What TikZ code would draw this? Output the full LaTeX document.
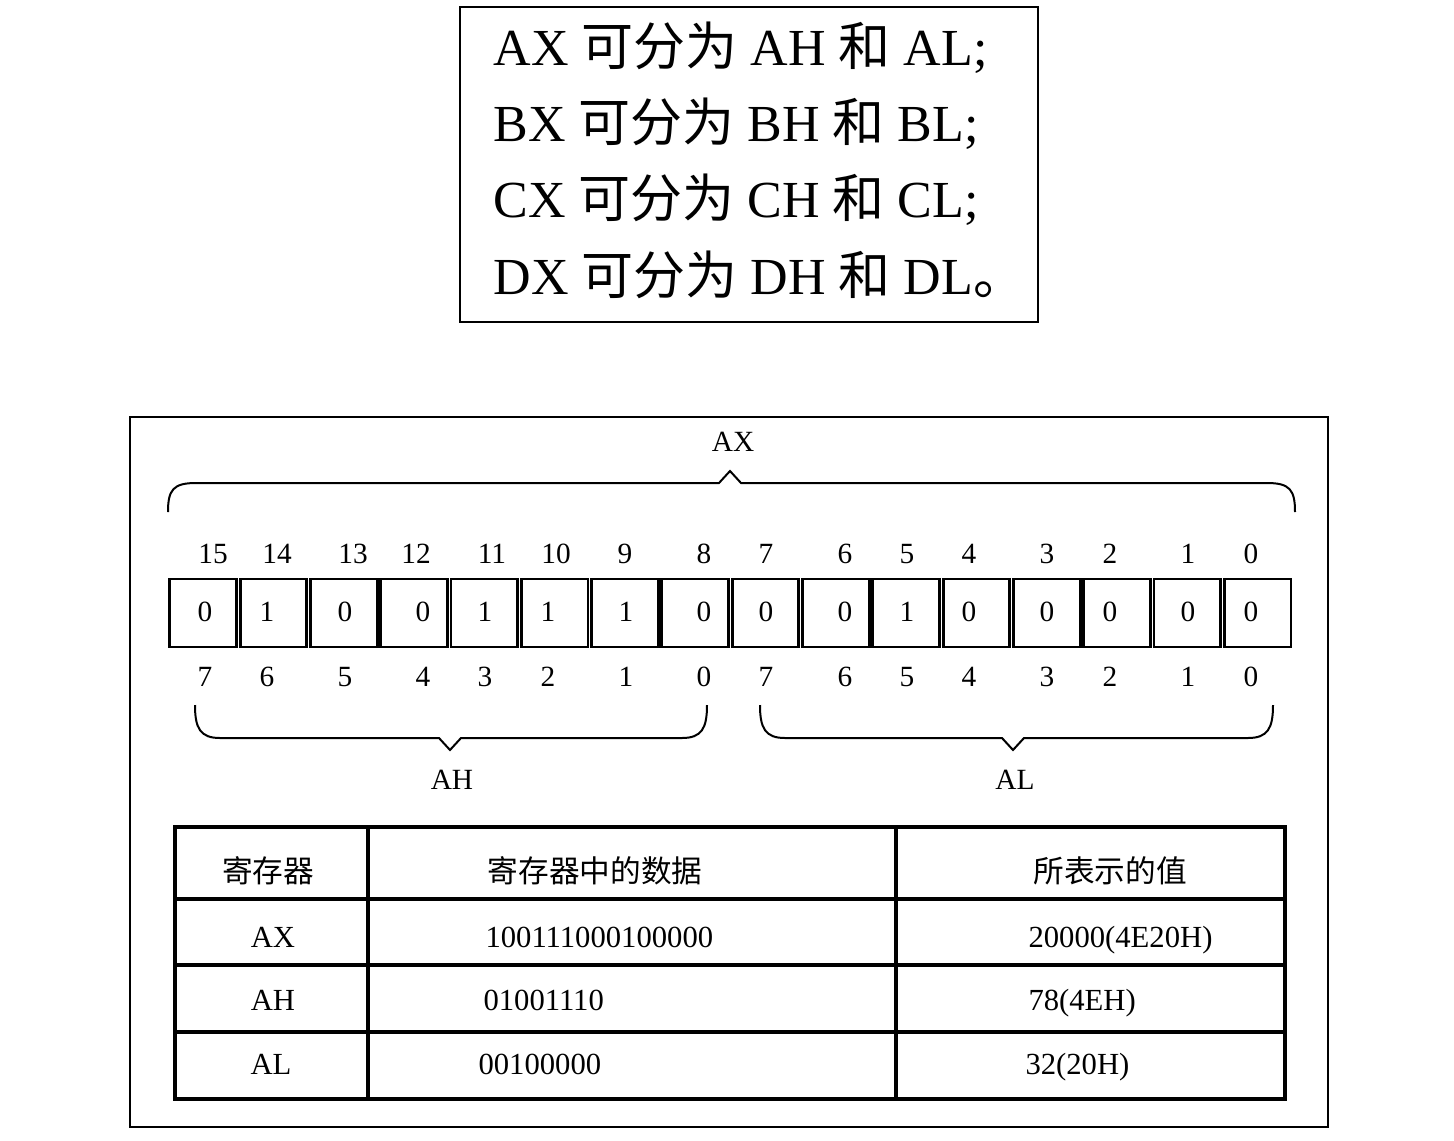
\documentclass[tikz,border=0pt]{standalone}
\usepackage{fontspec}
\setmainfont{Liberation Serif}
\newfontfamily\cjk{Noto Sans CJK SC}
\usetikzlibrary{positioning}

\tikzset{every picture/.style={line width=0.75pt}}
\tikzset{
  frame/.style={draw, line width=2.2pt},
  cellbox/.style={draw, line width=2.2pt, minimum width=50pt, minimum height=51pt, inner sep=0pt},
  bittxt/.style={inner sep=0.75pt, text height=15pt, text depth=0pt, font=\fontsize{22}{26}\selectfont},
  bigtxt/.style={anchor=west, inner sep=0pt, font=\fontsize{39}{46}\selectfont},
  tbltxt/.style={inner sep=0.75pt, text height=15pt, text depth=0pt, font=\fontsize{23}{27}\selectfont},
  bracestyle/.style={line width=1.5pt},
  tblline/.style={line width=2.6pt}
}

\begin{document}
\begin{tikzpicture}[x=0.75pt,y=0.75pt,yscale=-1,xscale=1]
\useasboundingbox (0,0) rectangle (1454,1140);

% Top box
\draw[frame] (460,7) rectangle (1038,322);
\foreach \r/\p/\y in {A/;/48, B/;/124, C/;/200, D/{\cjk 。}/275}
  \node[bigtxt] (line\r) at (493,\y) {\r X\hspace{0.25em}{\cjk 可分为}\hspace{0.25em}\r H\hspace{0.25em}{\cjk 和}\hspace{0.25em}\r L\p};

% Outer box
\draw[frame] (130,417) rectangle (1328,1127);

% AX brace
\draw[bracestyle] (168,512) .. controls (168,490) and (173,483) .. (196,483) -- (719,483) -- (730,471) -- (741,483) -- (1267,483) .. controls (1290,483) and (1295,490) .. (1295,512);
\node[bittxt] (ax) at (733,441) {AX};

% Register cells
\foreach \i/\v/\tx/\bx in {0/0/213/205, 1/1/277/267, 2/0/353/345, 3/0/416/423, 4/1/492/485, 5/1/556/548, 6/1/625/626, 7/0/704/704, 8/0/766/766, 9/0/845/845, 10/1/907/907, 11/0/969/969, 12/0/1047/1047, 13/0/1110/1110, 14/0/1188/1188, 15/0/1251/1251} {
  \pgfmathtruncatemacro\hi{15-\i}
  \pgfmathtruncatemacro\lo{mod(15-\i,8)}
  \node[cellbox] (cell\i) at ({168+70.3*(\i+0.5)},613) {};
  \node[bittxt] (val\i) at (\bx,611) {\v};
  \node[bittxt] (hi\i) at (\tx,553) {\hi};
  \node[bittxt] (lo\i) at (\bx,676) {\lo};
}

% AH and AL braces
\draw[bracestyle] (195,705) .. controls (195,728) and (200,738) .. (220,738) -- (439,738) -- (450,750) -- (461,738) -- (682,738) .. controls (702,738) and (707,728) .. (707,705);
\node[bittxt] (ah) at (452,779) {AH};
\draw[bracestyle] (760,705) .. controls (760,728) and (765,738) .. (785,738) -- (1002,738) -- (1013,750) -- (1024,738) -- (1248,738) .. controls (1268,738) and (1273,728) .. (1273,705);
\node[bittxt] (al) at (1015,779) {AL};

% Table
\draw[tblline] (175,827) rectangle (1285,1099);
\draw[tblline] (175,899) -- (1285,899);
\draw[tblline] (175,965) -- (1285,965);
\draw[tblline] (175,1032) -- (1285,1032);
\draw[tblline] (368,827) -- (368,1099);
\draw[tblline] (896,827) -- (896,1099);

% Text Node
\node[tbltxt] (hreg) at (268,872) {\cjk 寄存器};
\node[tbltxt] (hdata) at (595,872) {\cjk 寄存器中的数据};
\node[tbltxt] (hval) at (1110,872) {\cjk 所表示的值};
\node[tbltxt] (rax) at (273,937) {AX};
\node[tbltxt, anchor=west] (dax) at (484,937) {100111000100000};
\node[tbltxt, anchor=west] (vax) at (1027,937) {20000(4E20H)};
\node[tbltxt] (rah) at (273,1000) {AH};
\node[tbltxt, anchor=west] (dah) at (482,1000) {01001110};
\node[tbltxt, anchor=west] (vah) at (1027,1000) {78(4EH)};
\node[tbltxt] (ral) at (271,1064) {AL};
\node[tbltxt, anchor=west] (dal) at (477,1064) {00100000};
\node[tbltxt, anchor=west] (val) at (1024,1064) {32(20H)};

\end{tikzpicture}
\end{document}
